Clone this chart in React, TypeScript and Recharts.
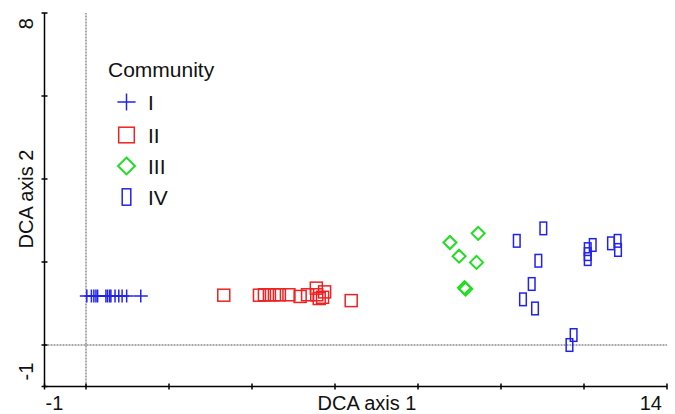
import React from 'react';
import { ScatterChart, Scatter, XAxis, YAxis, ReferenceLine, Legend } from 'recharts';

// Community I (crosses)
const commIx = [0.02, 0.13, 0.19, 0.24, 0.28, 0.48, 0.52, 0.57, 0.6, 0.7, 0.79, 0.87, 0.98, 1.32];
const commIy = [1.18, 1.18, 1.18, 1.18, 1.18, 1.18, 1.18, 1.18, 1.18, 1.18, 1.18, 1.18, 1.18, 1.18];
// Community II (squares)
const commIIx = [3.32, 4.18, 4.3, 4.42, 4.54, 4.66, 4.89, 5.16, 5.34, 5.55, 5.56, 5.62, 5.75, 5.7, 6.39];
const commIIy = [1.2, 1.2, 1.21, 1.21, 1.21, 1.21, 1.21, 1.17, 1.21, 1.37, 1.21, 1.12, 1.28, 1.15, 1.07];
// Community III (diamonds)
const commIIIx = [9.45, 8.77, 8.99, 9.41, 9.15, 9.12];
const commIIIy = [2.69, 2.47, 2.14, 1.99, 1.35, 1.38];
// Community IV (narrow rectangles)
const commIVx = [11.02, 10.38, 10.9, 10.74, 10.53, 10.82, 12.21, 12.09, 12.09, 12.09, 12.65, 12.81, 12.82, 11.75, 11.65];
const commIVy = [2.81, 2.51, 2.03, 1.47, 1.1, 0.88, 2.41, 2.31, 2.19, 2.07, 2.45, 2.51, 2.29, 0.24, 0.0];

const xTicks = [-1, 0, 2, 4, 6, 8, 10, 12, 14];
const yTicks = [-1, 0, 2, 4, 6, 8];
const xLabelled = ['-1', '14'];
const yLabelled = ['8', '-1'];

const BLUE = '#2222ee';
const RED = '#ee2222';
const GREEN = '#22dd22';
const FONT = '"Liberation Sans", Arial, Helvetica, sans-serif';

const zip = (xs: number[], ys: number[]) => xs.map((x, i) => ({ x, y: ys[i] }));

type Kind = 'cross' | 'square' | 'diamond' | 'rect';

const drawMark = (kind: Kind, cx: number, cy: number, color: string, s: number) => {
  if (kind === 'cross') {
    return (
      <g>
        <line x1={cx - 7 * s} x2={cx + 7 * s} y1={cy} y2={cy} stroke={color} strokeWidth={1.5} />
        <line x1={cx} x2={cx} y1={cy - 6.5 * s} y2={cy + 6.5 * s} stroke={color} strokeWidth={1.5} />
      </g>
    );
  }
  if (kind === 'square') {
    const h = 6 * s;
    return <rect x={cx - h} y={cy - h} width={2 * h} height={2 * h} fill="none" stroke={color} strokeWidth={1.5} />;
  }
  if (kind === 'diamond') {
    const h = 6.5 * s;
    return (
      <polygon
        points={`${cx},${cy - h} ${cx + h},${cy} ${cx},${cy + h} ${cx - h},${cy}`}
        fill="none"
        stroke={color}
        strokeWidth={2}
      />
    );
  }
  const w = 3.3 * s;
  const h = 6.3 * s;
  return <rect x={cx - w} y={cy - h} width={2 * w} height={2 * h} fill="none" stroke={color} strokeWidth={1.5} />;
};

const series: { name: string; kind: Kind; color: string; data: { x: number; y: number }[] }[] = [
  { name: 'I', kind: 'cross', color: BLUE, data: zip(commIx, commIy) },
  { name: 'II', kind: 'square', color: RED, data: zip(commIIx, commIIy) },
  { name: 'III', kind: 'diamond', color: GREEN, data: zip(commIIIx, commIIIy) },
  { name: 'IV', kind: 'rect', color: BLUE, data: zip(commIVx, commIVy) },
];

const legendRowY = [102, 135, 166, 197];

const LegendContent = () => (
  <svg width={260} height={230} style={{ display: 'block' }}>
    <text x={108} y={77} fontSize={21} fontFamily={FONT} fill="#111">Community</text>
    {series.map((s, i) => (
      <g key={s.name}>
        {drawMark(s.kind, 126.5, legendRowY[i], s.color, 1.3)}
        <text x={148} y={legendRowY[i] + 7.5} fontSize={21} fontFamily={FONT} fill="#111">{s.name}</text>
      </g>
    ))}
  </svg>
);

const XTick = (props: any) => {
  const { x, y, payload } = props;
  const v = String(payload.value);
  const isFirst = payload.value === xTicks[0];
  const ty = y + 23.5;
  return (
    <g>
      <line x1={x} x2={x} y1={y - 3} y2={y + 3} stroke="#000" strokeWidth={1.5} />
      {xLabelled.includes(v) && (
        <text x={isFirst ? x + 1 : x - 5} y={ty} textAnchor={isFirst ? 'start' : 'end'} fontSize={20} fontFamily={FONT} fill="#111">
          {v}
        </text>
      )}
      {payload.value === 6 && (
        <text x={367} y={ty} textAnchor="middle" fontSize={20} fontFamily={FONT} fill="#111">DCA axis 1</text>
      )}
    </g>
  );
};

const YTick = (props: any) => {
  const { x, y, payload } = props;
  const v = String(payload.value);
  const isTop = payload.value === yTicks[yTicks.length - 1];
  const tx = x - 11.5;
  const ty = isTop ? y + 5 : y - 6;
  return (
    <g>
      <line x1={x - 3} x2={x + 3} y1={y} y2={y} stroke="#000" strokeWidth={1.5} />
      {yLabelled.includes(v) && (
        <text x={tx} y={ty} transform={`rotate(-90, ${tx}, ${ty})`} textAnchor={isTop ? 'end' : 'start'} fontSize={20} fontFamily={FONT} fill="#111">
          {v}
        </text>
      )}
      {payload.value === 4 && (
        <text x={tx} y={199} transform={`rotate(-90, ${tx}, 199)`} textAnchor="middle" fontSize={20} fontFamily={FONT} fill="#111">
          DCA axis 2
        </text>
      )}
    </g>
  );
};

export default function App() {
  return (
    <div style={{ position: 'absolute', left: 0, top: 0, width: 675, height: 414, background: '#fff' }}>
      <ScatterChart width={675} height={414} margin={{ top: 13, right: 8, bottom: 0, left: 0 }}>
        <XAxis
          type="number"
          dataKey="x"
          domain={[-1, 14]}
          ticks={xTicks}
          interval={0}
          height={27.5}
          tickSize={0}
          tickMargin={0}
          tickLine={false}
          axisLine={{ stroke: '#000', strokeWidth: 1.5 }}
          tick={<XTick />}
          allowDataOverflow
        />
        <YAxis
          type="number"
          dataKey="y"
          domain={[-1, 8]}
          ticks={yTicks}
          interval={0}
          width={44.5}
          tickSize={0}
          tickMargin={0}
          tickLine={false}
          axisLine={{ stroke: '#000', strokeWidth: 1.5 }}
          tick={<YTick />}
          allowDataOverflow
        />
        <ReferenceLine x={0} stroke="#555" strokeWidth={1} strokeDasharray="2 1" />
        <ReferenceLine y={0} stroke="#555" strokeWidth={1} strokeDasharray="2 1" />
        <Legend
          layout="vertical"
          align="center"
          verticalAlign="middle"
          wrapperStyle={{ position: 'absolute', left: 0, top: 0, width: 260, height: 230 }}
          content={<LegendContent />}
        />
        {series.map((s) => (
          <Scatter
            key={s.name}
            name={s.name}
            data={s.data}
            fill={s.color}
            isAnimationActive={false}
            shape={(p: any) => drawMark(s.kind, p.cx, p.cy, s.color, 1)}
          />
        ))}
      </ScatterChart>
    </div>
  );
}
